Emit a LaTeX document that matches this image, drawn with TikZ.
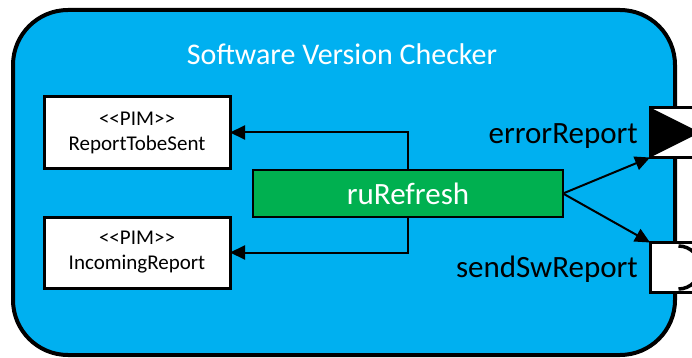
\documentclass[tikz,border=0pt]{standalone}
\usepackage{fontspec}
\setmainfont{Carlito}
\usetikzlibrary{arrows.meta}
\definecolor{swblue}{HTML}{00B0F0}
\definecolor{rugreen}{HTML}{00B050}

\begin{document}
\begin{tikzpicture}[x=1pt,y=-1pt,
  container/.style={draw=black, line width=4pt, fill=swblue, rounded corners=55pt,
    minimum width=662pt, minimum height=345pt, inner sep=0pt, outer sep=0pt},
  pimbox/.style={draw=black, line width=3pt, fill=white, minimum width=186pt,
    minimum height=71pt, inner sep=0pt, outer sep=0pt, align=center,
    font=\fontsize{21}{25}\selectfont},
  actbox/.style={draw=black, line width=2pt, fill=rugreen, minimum width=310pt,
    minimum height=47pt, inner sep=0pt, outer sep=0pt, text=white,
    font=\fontsize{31}{37}\selectfont},
  portbox/.style={draw=black, line width=3pt, fill=white, minimum size=50pt,
    inner sep=0pt, outer sep=0pt},
  outport/.style={portbox, path picture={
    \fill[black] (path picture bounding box.north west) --
      (path picture bounding box.south west) --
      (path picture bounding box.east) -- cycle;}},
  link/.style={line width=2pt, -{Triangle[length=15pt,width=14pt]}},
  titlelabel/.style={font=\fontsize{30}{36}\selectfont, inner sep=0pt},
  biglabel/.style={font=\fontsize{31}{37}\selectfont, inner sep=0pt}
]
\useasboundingbox (0,0) rectangle (692,358);
\clip (0,0) rectangle (692,358);

% system block
\node[container] (sys) at (344,182.5) {};
\node[titlelabel, text=white, anchor=base] (title) at (342,65) {Software Version Checker};

% data stores
\node[pimbox] (rts) at (137,132.5) {{<}{<}PIM{>}{>}\\ReportTobeSent};
\node[pimbox] (inc) at (137,252.5) {{<}{<}PIM{>}{>}\\IncomingReport};

% activity
\node[actbox] (rf) at (408,193.5) {ruRefresh};

% ports on the block border
\node[outport] (p1) at (675,132.5) {};
\node[portbox] (p2) at (675,267.5) {};
\draw[line width=3.5pt] ([shift={(3.5,-21.5)}]p2.center) arc[start angle=-90, end angle=90, radius=21.5];

\node[biglabel, anchor=base east] (lerr) at (638,143) {errorReport};
\node[biglabel, anchor=base east] (lsend) at (638,277) {sendSwReport};

% connectors
\draw[link] (rf.north) |- (rts.east);
\draw[link] (rf.south) |- (inc.east);
\draw[link] (rf.east) -- (p1.south west);
\draw[link] (rf.east) -- (p2.north west);
\end{tikzpicture}
\end{document}
